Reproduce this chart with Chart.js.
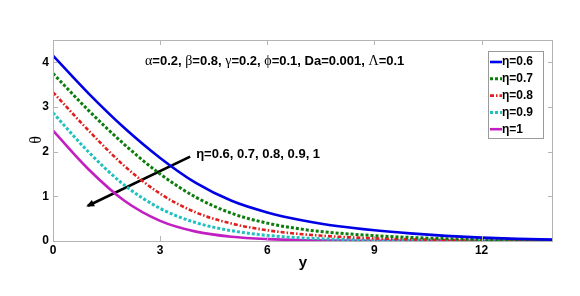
<!DOCTYPE html>
<html><head><meta charset="utf-8">
<script src="https://cdn.jsdelivr.net/npm/chart.js@4"></script>
<style>html,body{margin:0;padding:0;background:#fff}#wrap{width:580px;height:296px}</style>
</head><body><div id="wrap"><canvas id="c" width="580" height="296"></canvas></div>
<script>
const xs = [0,1,2,3,4,5,6,7,8,9,10,11,12,13,14];
const eta06 = [4.15,3.30,2.53,1.86,1.30,0.90,0.64,0.46,0.33,0.24,0.17,0.115,0.075,0.048,0.03];
const eta07 = [3.75,2.92,2.16,1.50,0.98,0.62,0.40,0.26,0.175,0.12,0.08,0.052,0.034,0.022,0.015];
const eta08 = [3.33,2.47,1.68,1.06,0.64,0.39,0.24,0.15,0.095,0.06,0.038,0.024,0.015,0.009,0.006];
const eta09 = [2.87,1.99,1.25,0.73,0.41,0.23,0.125,0.068,0.037,0.02,0.011,0.006,0.003,0.002,0.001];
const eta10 = [2.47,1.60,0.90,0.45,0.21,0.095,0.042,0.018,0.008,0.004,0.002,0.001,0,0,0];
const seriesLabels = ['η=0.6','η=0.7','η=0.8','η=0.9','η=1'];
const xTicks = [0,3,6,9,12];
const yTicks = [0,1,2,3,4];
const arrowFrom = [3.84,1.89];
const arrowTo = [0.98,0.79];
const arrowText = 'η=0.6, 0.7, 0.8, 0.9, 1';
const paramText = [['α',1],['=0.2, ',0],['β',1],['=0.8, ',0],['γ',1],['=0.2, ',0],['ϕ',1],['=0.1, Da=0.001, ',0],['Λ',1],['=0.1',0]];

const styles = [
  {color:'#0000e6', dash:[], w:2.6},
  {color:'#0b7d0b', dash:[3,2], w:3},
  {color:'#e11d1d', dash:[4,2,1.5,2], w:2.6},
  {color:'#1fc0c0', dash:[3,2], w:3},
  {color:'#c21fc2', dash:[], w:2.6}
];
const allSeries = [eta06,eta07,eta08,eta09,eta10];
const datasets = allSeries.map((s,i)=>({
  label: seriesLabels[i],
  data: xs.map((x,j)=>({x:x,y:s[j]})),
  borderColor: styles[i].color, borderWidth: styles[i].w, borderDash: styles[i].dash,
  pointRadius:0, showLine:true, fill:false, cubicInterpolationMode:'monotone'
}));
datasets.push({label:'arrow', data:[{x:arrowFrom[0],y:arrowFrom[1]},{x:arrowTo[0],y:arrowTo[1]}],
  borderColor:'#000', borderWidth:2.6, pointRadius:0, showLine:true, fill:false});

const deco = {
  id:'deco',
  afterDatasetsDraw(chart){
    const {ctx, chartArea:a, scales:{x,y}} = chart;
    ctx.save();
    ctx.strokeStyle = '#b4b4b4'; ctx.lineWidth = 1;
    ctx.strokeRect(a.left+0.5, a.top+0.5, a.right-a.left-1, a.bottom-a.top);
    ctx.beginPath();
    xTicks.forEach(t=>{const px=Math.round(x.getPixelForValue(t))+0.5;
      ctx.moveTo(px,a.bottom); ctx.lineTo(px,a.bottom-5); ctx.moveTo(px,a.top); ctx.lineTo(px,a.top+5);});
    yTicks.forEach(t=>{const py=Math.round(y.getPixelForValue(t))+0.5;
      ctx.moveTo(a.left,py); ctx.lineTo(a.left+5,py); ctx.moveTo(a.right,py); ctx.lineTo(a.right-5,py);});
    ctx.stroke();
    const x1=x.getPixelForValue(arrowFrom[0]), y1=y.getPixelForValue(arrowFrom[1]);
    const x2=x.getPixelForValue(arrowTo[0]), y2=y.getPixelForValue(arrowTo[1]);
    const ang=Math.atan2(y2-y1,x2-x1), L=6, W=3.5;
    ctx.fillStyle='#000'; ctx.beginPath();
    ctx.moveTo(x2+Math.cos(ang)*2,y2+Math.sin(ang)*2);
    ctx.lineTo(x2-Math.cos(ang)*L-Math.sin(ang)*W, y2-Math.sin(ang)*L+Math.cos(ang)*W);
    ctx.lineTo(x2-Math.cos(ang)*L+Math.sin(ang)*W, y2-Math.sin(ang)*L-Math.cos(ang)*W);
    ctx.closePath(); ctx.fill();
    ctx.fillStyle='#000'; ctx.textBaseline='middle'; ctx.textAlign='left';
    ctx.font='bold 13px "Liberation Sans", Arial, sans-serif';
    ctx.fillText(arrowText, x1+6, y1-2);
    let px = 145; const py = 61;
    paramText.forEach(([t,g])=>{
      ctx.font = g ? '14px "Liberation Serif", "DejaVu Serif", serif' : 'bold 13px "Liberation Sans", Arial, sans-serif';
      ctx.fillText(t, px, py); px += ctx.measureText(t).width;
    });
    const lx=488, ly=51, lw=55, lh=87;
    ctx.fillStyle='#fff'; ctx.fillRect(lx,ly,lw,lh);
    ctx.strokeStyle='#9a9a9a'; ctx.lineWidth=1; ctx.strokeRect(lx+0.5,ly+0.5,lw,lh);
    ctx.font='bold 12px "Liberation Sans", Arial, sans-serif';
    styles.forEach((s,i)=>{
      const ry = 62 + i*16.8;
      ctx.strokeStyle=s.color; ctx.lineWidth=s.w; ctx.setLineDash(s.dash);
      ctx.beginPath(); ctx.moveTo(490,ry); ctx.lineTo(502,ry); ctx.stroke();
      ctx.setLineDash([]);
      ctx.fillStyle='#000'; ctx.fillText(seriesLabels[i], 502, ry);
    });
    ctx.fillStyle='#000'; ctx.textAlign='center';
    ctx.font='bold 15px "Liberation Sans", Arial, sans-serif';
    ctx.fillText('y', (a.left+a.right)/2, 263);
    ctx.save(); ctx.translate(37,140); ctx.rotate(-Math.PI/2);
    ctx.font='16px "Liberation Serif", "DejaVu Serif", serif';
    ctx.fillText('θ',0,0); ctx.restore();
    ctx.restore();
  }
};

new Chart(document.getElementById('c'), {
  type:'scatter',
  data:{datasets},
  options:{
    responsive:false, animation:false, events:[],
    layout:{padding:{top:40,right:27,left:0,bottom:0}},
    plugins:{legend:{display:false}, tooltip:{enabled:false}},
    scales:{
      x:{type:'linear', min:0, max:14,
        afterBuildTicks:(s)=>{s.ticks = xTicks.map(v=>({value:v}));},
        afterFit:(s)=>{s.height=55;},
        grid:{display:false, drawTicks:false}, border:{display:false},
        ticks:{color:'#000', font:{family:'"Liberation Sans", Arial, sans-serif', size:12, weight:'bold'}, padding:2, maxRotation:0}
      },
      y:{type:'linear', min:0, max:4.5,
        afterBuildTicks:(s)=>{s.ticks = yTicks.map(v=>({value:v}));},
        afterFit:(s)=>{s.width=53;},
        grid:{display:false, drawTicks:false}, border:{display:false},
        ticks:{color:'#000', font:{family:'"Liberation Sans", Arial, sans-serif', size:12, weight:'bold'}, padding:4}
      }
    }
  },
  plugins:[deco]
});
</script></body></html>
